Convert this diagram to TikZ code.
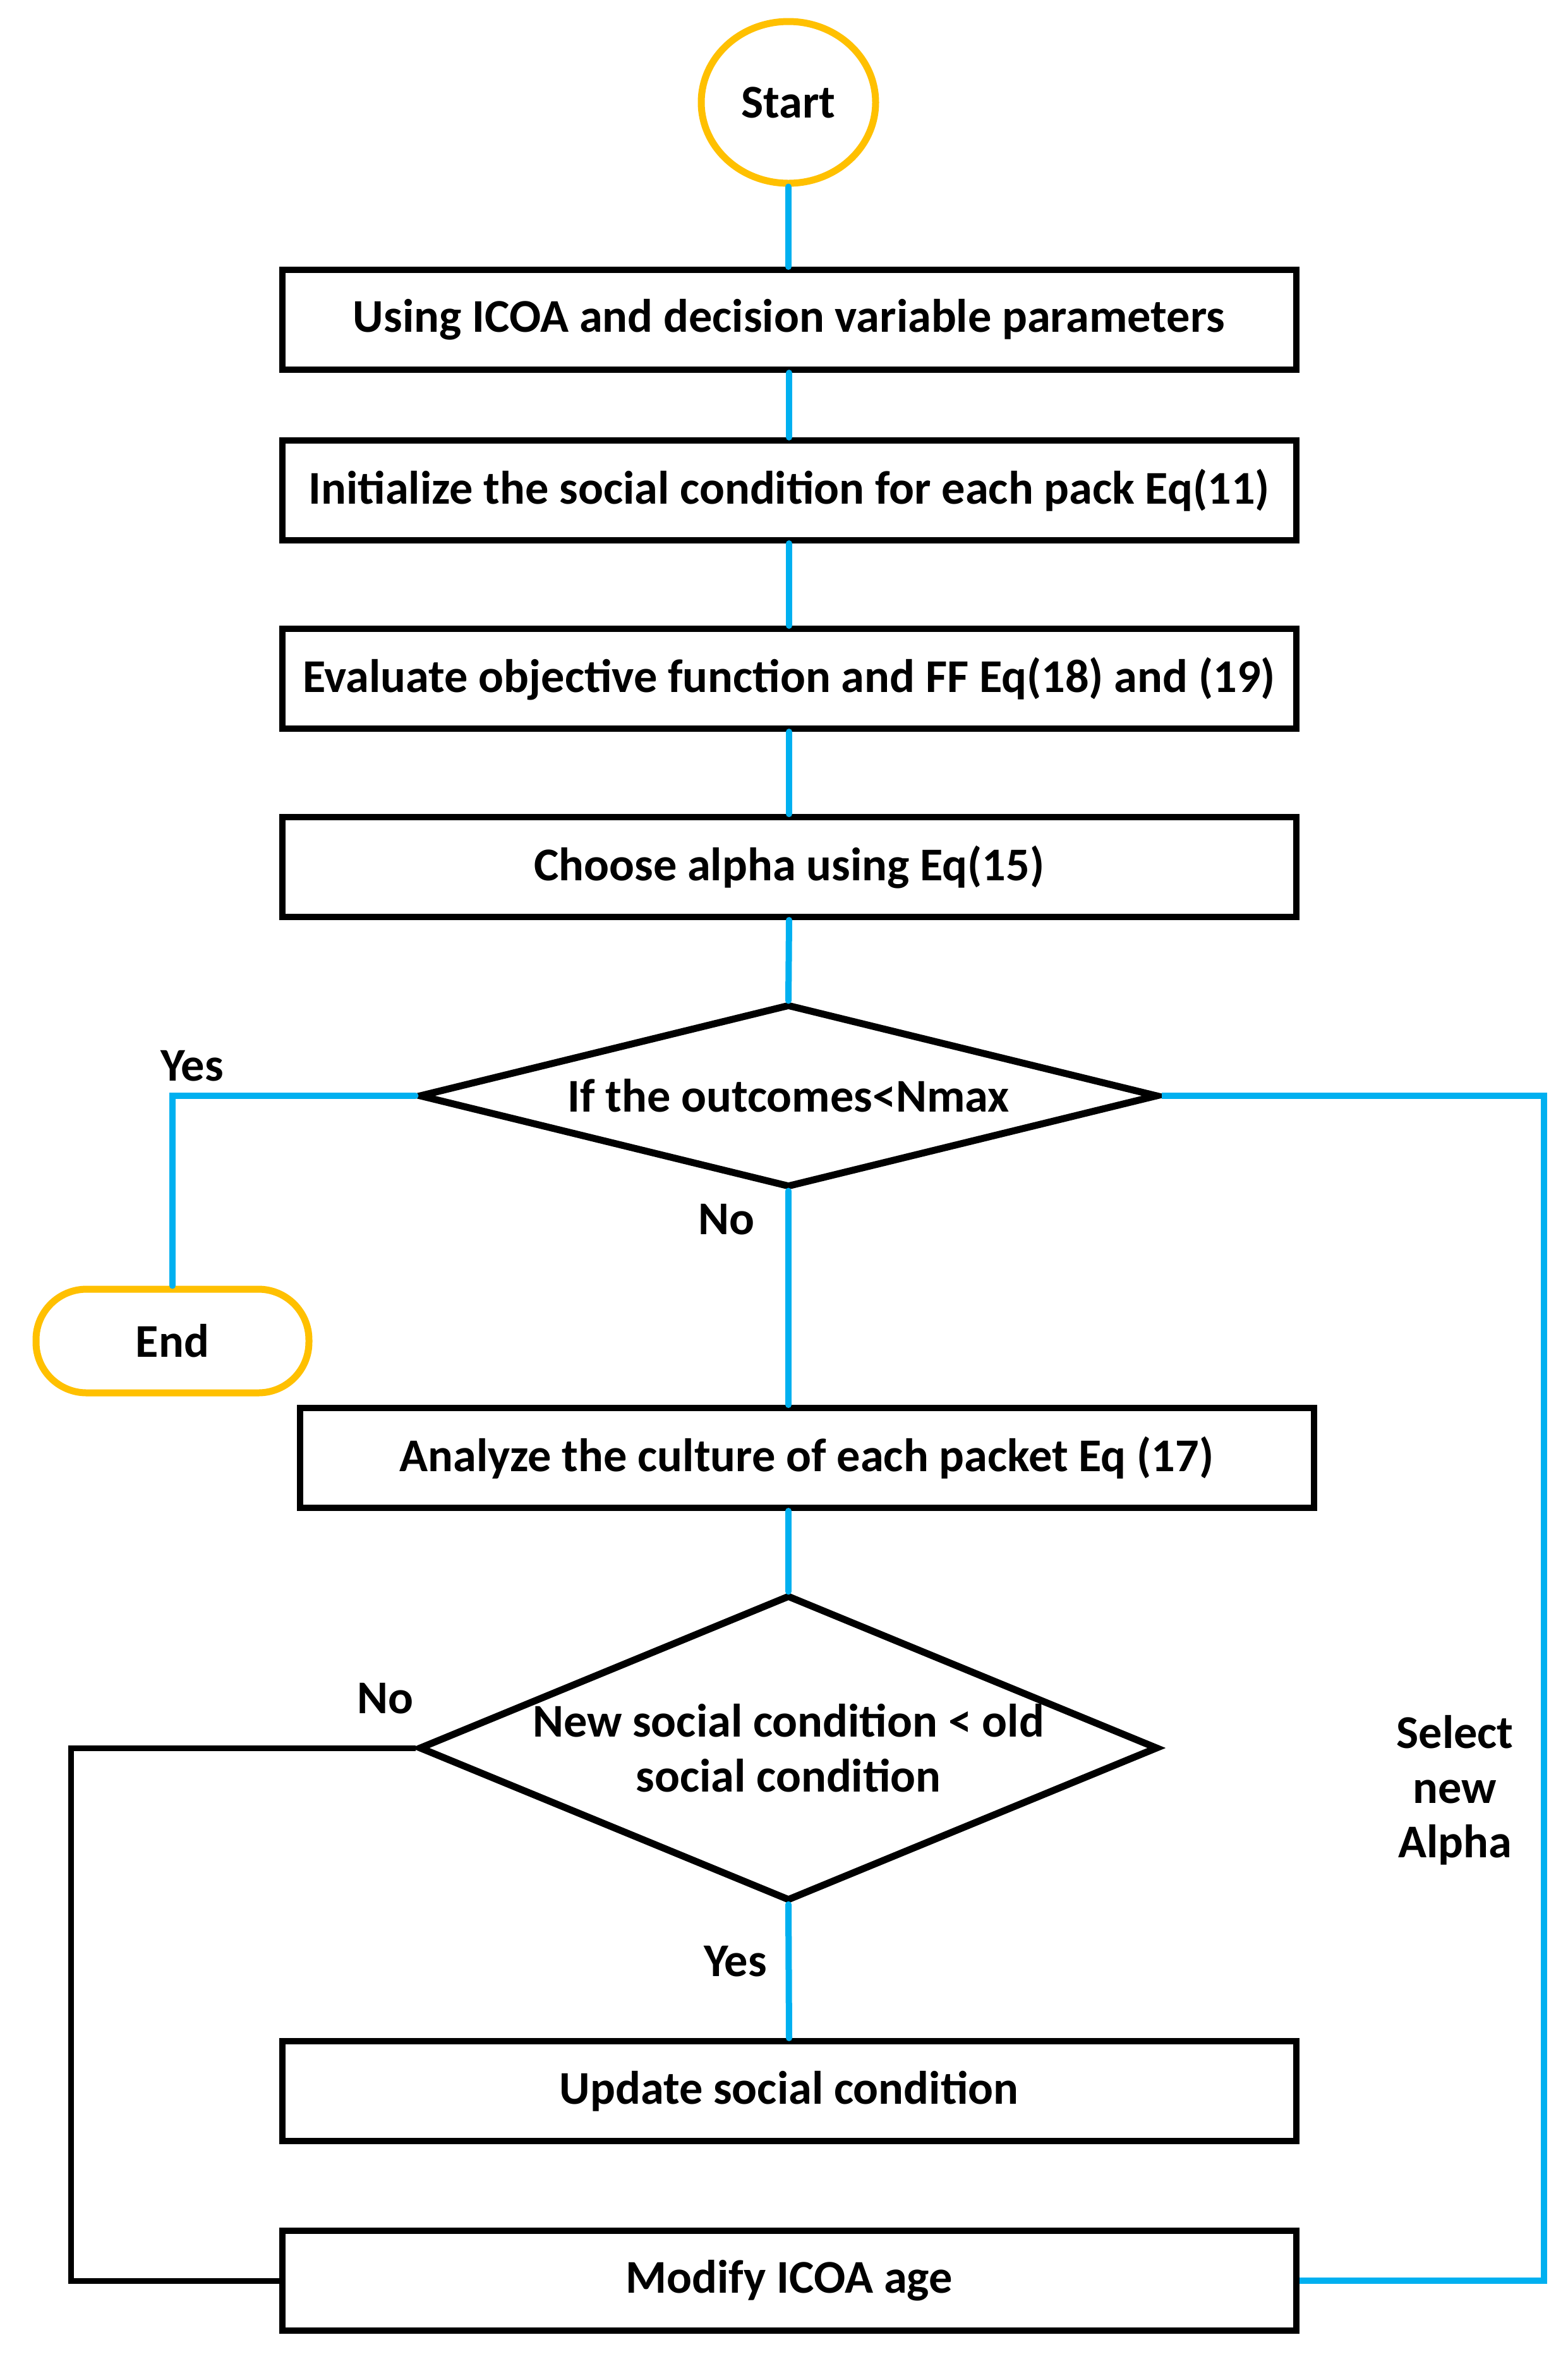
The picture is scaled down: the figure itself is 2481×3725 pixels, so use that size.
\documentclass[tikz,border=0pt]{standalone}
\usepackage{fontspec}
\setmainfont{Carlito}
\usetikzlibrary{shapes.geometric,calc}
\definecolor{cblue}{HTML}{00B0F0}
\definecolor{cgold}{HTML}{FFC000}
\begin{document}
\begin{tikzpicture}[x=0.3pt,y=0.3pt,
  every node/.style={font=\fontsize{22.3}{26}\selectfont\bfseries, text=black},
  procbox/.style={draw=black, line width=3pt, rectangle, minimum width=1605*0.3pt, minimum height=158*0.3pt, inner sep=0pt},
  decision/.style={draw=black, line width=3.3pt, diamond, inner sep=0pt},
  terminal/.style={draw=cgold, line width=3.3pt, inner sep=0pt},
  flow/.style={draw=cblue, line width=3pt, line cap=round},
  back/.style={draw=black, line width=2.7pt},
  ]
\useasboundingbox (0,0) rectangle (2481,-3725);
\node[terminal, ellipse, minimum width=276*0.3pt, minimum height=256*0.3pt] (start) at (1248,-162) {Start};
\node[procbox] (b1) at (1249,-506) {Using ICOA and decision variable parameters};
\node[procbox] (b2) at (1249,-776) {Initialize the social condition for each pack Eq(11)};
\node[procbox] (b3) at (1249,-1074) {Evaluate objective function and FF Eq(18) and (19)};
\node[procbox] (b4) at (1249,-1372) {Choose alpha using Eq(15)};
\node[decision, minimum width=1170*0.3pt, minimum height=290*0.3pt] (d1) at (1248,-1734) {};
\node (d1t) at (d1.center) {If the outcomes<Nmax};
\node[terminal, rounded corners=24pt, minimum width=432*0.3pt, minimum height=164*0.3pt] (end) at (273,-2122) {End};
\node[procbox] (b5) at (1277,-2307) {Analyze the culture of each packet Eq (17)};
\node[decision, minimum width=1170*0.3pt, minimum height=484*0.3pt] (d2) at (1248,-2766) {};
\node[align=center] (d2t) at (d2.center) {New social condition < old\\social condition};
\node[procbox] (upd) at (1249,-3309) {Update social condition};
\node[procbox] (mod) at (1249,-3609) {Modify ICOA age};
\coordinate (rc) at (2444,-1734);
\coordinate (lc) at (112,-2766);
% connectors
\draw[flow] (start.south) -- (start.south |- b1.north);
\draw[flow] (b1.south) -- (b2.north);
\draw[flow] (b2.south) -- (b3.north);
\draw[flow] (b3.south) -- (b4.north);
\draw[flow] (b4.south) -- (d1.north);
\draw[flow] (d1.west) -| (end.north);
\draw[flow] (d1.south) -- (d1.south |- b5.north);
\draw[flow] (d2.north |- b5.south) -- (d2.north);
\draw[flow] (d2.south) -- (upd.north);
\draw[flow, line cap=butt] (d1.east) -- (rc) |- (mod.east);
\draw[back] (d2.west) -- (lc) |- (mod.west);
% labels
\node (yes1) at (304,-1687) {Yes};
\node (no1) at (1150,-1930) {No};
\node (no2) at (610,-2688) {No};
\node (yes2) at (1164,-3104) {Yes};
\node[align=center] (sel) at (2303,-2833) {Select\\new\\Alpha};
\end{tikzpicture}
\end{document}
